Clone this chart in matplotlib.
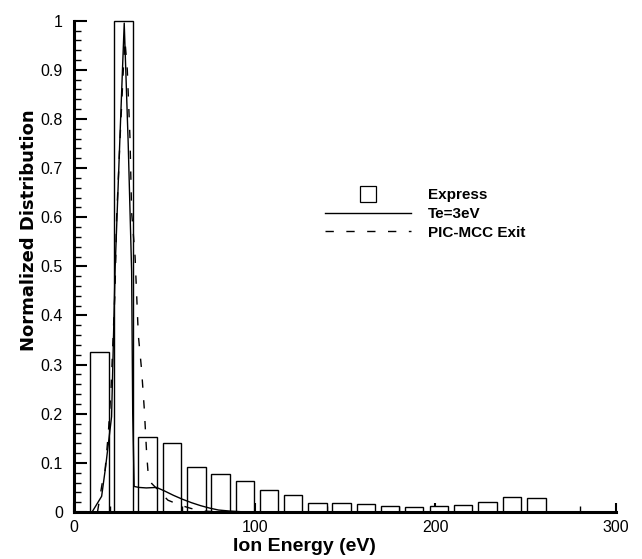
import matplotlib
matplotlib.use("Agg")
import matplotlib.pyplot as plt
from matplotlib.lines import Line2D
from matplotlib.ticker import MultipleLocator, FuncFormatter

# ---- data ----
bar_centers = [14.0, 27.4, 40.8, 54.2, 67.8, 81.1, 94.6, 107.9, 121.3, 134.8,
               148.1, 161.5, 174.9, 188.3, 201.9, 215.3, 228.9, 242.5, 256.1]
bar_heights = [0.325, 1.0, 0.153, 0.141, 0.092, 0.078, 0.0625, 0.0455, 0.035, 0.018,
               0.019, 0.017, 0.012, 0.010, 0.013, 0.015, 0.021, 0.030, 0.029]
bar_width = 10.2

te_x = [10, 15.3, 17.5, 20.8, 22.8, 25.5, 27.8, 30.0, 31.9, 32.5, 33.3, 36, 40, 45.7,
        50, 55, 60, 65, 70, 75, 80, 86, 95, 100]
te_y = [0, 0.032, 0.092, 0.194, 0.50, 0.77, 0.995, 0.75, 0.49, 0.2, 0.052, 0.050, 0.049, 0.050,
        0.043, 0.034, 0.026, 0.019, 0.013, 0.008, 0.004, 0.002, 0.0, 0.0]

pic_x = [13, 16.2, 17.2, 19.0, 20.5, 21.8, 22.7, 23.6, 25.5, 27.3, 28.2, 29.5, 31.0, 31.9,
         33.8, 35.6, 37.4, 38.9, 40.2, 41.0, 43.0, 45.7, 52, 58.7, 65, 72, 80]
pic_y = [0, 0.072, 0.085, 0.16, 0.25, 0.37, 0.45, 0.60, 0.76, 0.90, 0.96, 0.90, 0.76, 0.61,
         0.52, 0.36, 0.29, 0.21, 0.12, 0.08, 0.058, 0.048, 0.024, 0.014, 0.007, 0.002, 0.0]

x_ticks = [0, 100, 200, 300]
y_ticks = [0, 0.1, 0.2, 0.3, 0.4, 0.5, 0.6, 0.7, 0.8, 0.9, 1.0]
labels = ["Express", "Te=3eV", "PIC-MCC Exit"]

plt.rcParams['font.family'] = ['Liberation Sans', 'DejaVu Sans']

fig = plt.figure(figsize=(6.42, 5.59), dpi=100)
ax = fig.add_axes([74/642, 47/559, 542/642, 491.3/559])

ax.bar(bar_centers, bar_heights, width=bar_width, facecolor='white',
       edgecolor='black', linewidth=1.0, clip_on=False, zorder=2)
ax.plot(te_x, te_y, color='black', linewidth=1.0, zorder=3)
ax.plot(pic_x, pic_y, color='black', linewidth=1.0, dashes=(6, 9), zorder=3)

ax.set_xlim(0, 300)
ax.set_ylim(0, 1)
ax.set_xticks(x_ticks)
ax.set_yticks(y_ticks)
ax.xaxis.set_minor_locator(MultipleLocator(20))
ax.yaxis.set_minor_locator(MultipleLocator(0.02))
ax.yaxis.set_major_formatter(FuncFormatter(lambda v, p: f"{v:g}"))

for s in ['top', 'right']:
    ax.spines[s].set_visible(False)
for s in ['left', 'bottom']:
    ax.spines[s].set_linewidth(2.2)

ax.tick_params(axis='x', which='major', direction='in', length=6.5, width=1.5,
               labelsize=11.5, pad=6)
ax.tick_params(axis='x', which='minor', direction='in', length=4.3, width=1.0)
ax.tick_params(axis='y', which='major', direction='in', length=9, width=1.5,
               labelsize=11.5, pad=8)
ax.tick_params(axis='y', which='minor', direction='in', length=5, width=1.0)

ax.set_xlabel("Ion Energy (eV)", fontsize=14, fontweight='bold')
ax.set_ylabel("Normalized Distribution", fontsize=13, fontweight='bold',
              family=['DejaVu Sans'])
ax.xaxis.set_label_coords(0.426, -0.053)
ax.yaxis.set_label_coords(-0.066, 0.573)

handles = [
    Line2D([], [], linestyle='none', marker='s', markersize=11.5,
           markerfacecolor='white', markeredgecolor='black', markeredgewidth=0.9),
    Line2D([], [], color='black', linewidth=1.0),
    Line2D([], [], color='black', linewidth=1.0, dashes=(6, 9)),
]
leg = ax.legend(handles, labels, loc='upper left',
                bbox_to_anchor=(325/642, 1 - 188/559), bbox_transform=fig.transFigure,
                frameon=False, borderpad=0, borderaxespad=0, handlelength=5.6,
                handletextpad=1.15, labelspacing=0.32, numpoints=1,
                prop={'family': 'Liberation Sans', 'weight': 'bold', 'size': 11})

fig.savefig("out.png", dpi=100)
